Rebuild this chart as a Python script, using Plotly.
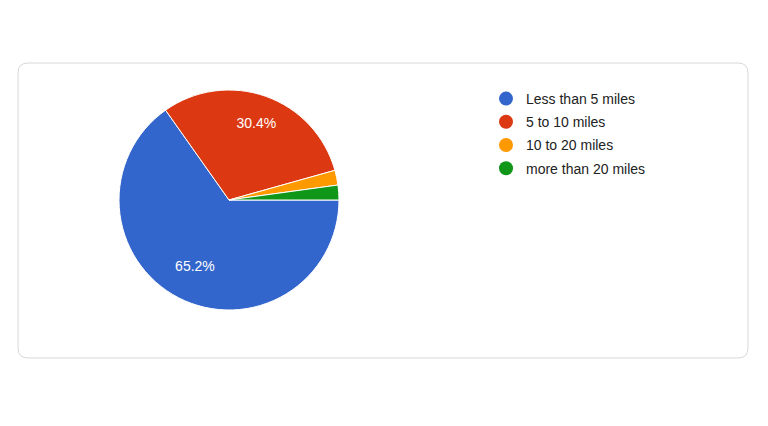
import plotly.graph_objects as go

labels = ["Less than 5 miles", "5 to 10 miles", "10 to 20 miles", "more than 20 miles"]
values = [30, 14, 1, 1]
colors = ["#3366cc", "#dc3912", "#ff9900", "#109618"]

W, H = 768, 426
total = sum(values)
texts = ["%.1f%%" % (100 * v / total) if v / total > 0.05 else "" for v in values]

cx, cy, R = 229, 200, 110      # pie centre / radius in px
RL = 148                       # radius of transparent label ring
FONT = "Arial, Liberation Sans, sans-serif"

fig = go.Figure()
fig.add_trace(go.Pie(
    labels=labels, values=values, sort=False, direction="clockwise", rotation=90,
    marker=dict(colors=colors, line=dict(color="white", width=1)),
    textinfo="none",
    domain=dict(x=[(cx - R) / W, (cx + R) / W], y=[1 - (cy + R) / H, 1 - (cy - R) / H]),
    showlegend=False, hoverinfo="label+percent",
))
# transparent overlay pie used only to place the percentage labels further out
fig.add_trace(go.Pie(
    labels=labels, values=values, sort=False, direction="clockwise", rotation=90,
    marker=dict(colors=["rgba(0,0,0,0)"] * len(values), line=dict(width=0)),
    text=texts, textinfo="text", textposition="inside",
    insidetextorientation="horizontal",
    textfont=dict(color="white", size=14, family=FONT),
    domain=dict(x=[(cx - RL) / W, (cx + RL) / W], y=[1 - (cy + RL) / H, 1 - (cy - RL) / H]),
    showlegend=False, hoverinfo="skip",
))
for lab, col in zip(labels, colors):
    fig.add_trace(go.Scatter(x=[None], y=[None], mode="markers", name=lab, legendgroup=lab,
                             marker=dict(symbol="circle", size=14, color=col)))

# rounded card
x0, x1, y0, y1, r = 18, 748, 63, 358, 10
def px(x):
    return x / W
def py(y):
    return 1 - y / H
path = (f"M {px(x0 + r)},{py(y0)} L {px(x1 - r)},{py(y0)} Q {px(x1)},{py(y0)} {px(x1)},{py(y0 + r)} "
        f"L {px(x1)},{py(y1 - r)} Q {px(x1)},{py(y1)} {px(x1 - r)},{py(y1)} "
        f"L {px(x0 + r)},{py(y1)} Q {px(x0)},{py(y1)} {px(x0)},{py(y1 - r)} "
        f"L {px(x0)},{py(y0 + r)} Q {px(x0)},{py(y0)} {px(x0 + r)},{py(y0)} Z")
fig.add_shape(type="path", path=path, xref="paper", yref="paper",
              line=dict(color="#d5d7da", width=1), fillcolor="white", layer="below")

fig.update_layout(
    width=W, height=H, margin=dict(l=0, r=0, t=0, b=0),
    paper_bgcolor="white", plot_bgcolor="rgba(0,0,0,0)",
    xaxis=dict(visible=False), yaxis=dict(visible=False),
    legend=dict(x=486 / W, y=1 - 83 / H, xanchor="left", yanchor="top",
                font=dict(family=FONT, size=14, color="#222222"),
                bgcolor="rgba(0,0,0,0)", itemclick=False, tracegroupgap=2,
                traceorder="grouped"),
)
fig.write_html("out.html", config={"displayModeBar": False},
               post_script="document.body.style.margin='0';document.body.style.overflow='hidden';")
